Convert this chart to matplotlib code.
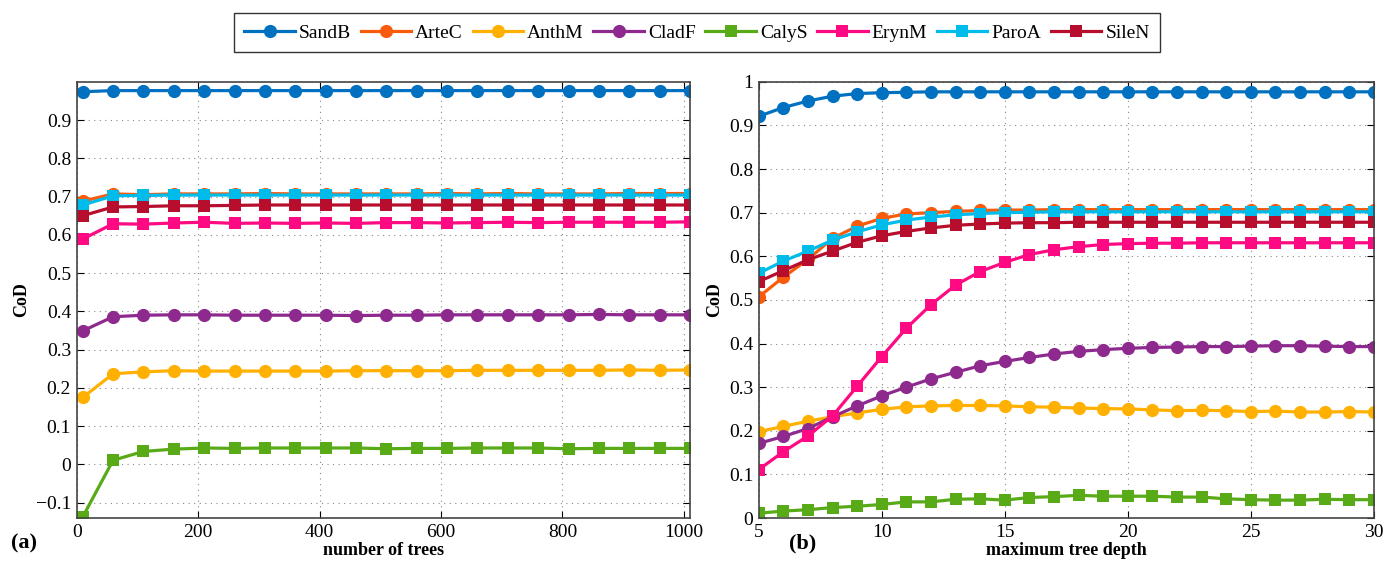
import numpy as np
import matplotlib.pyplot as plt
from matplotlib.lines import Line2D

plt.rcParams["font.family"] = ["Liberation Serif", "DejaVu Serif"]
plt.rcParams["font.size"] = 12

species = ["SandB", "ArteC", "AnthM", "CladF", "CalyS", "ErynM", "ParoA", "SileN"]
colors = ["#0070C0", "#F95B0C", "#FFB000", "#8E2A8E", "#58AA16", "#FF0A82", "#00BCEB", "#B80E2E"]
markers = ["o", "o", "o", "o", "s", "s", "s", "s"]

# (a) number of trees
n_trees = np.arange(10, 1011, 50)
trees_sandb = [0.974, 0.977, 0.977, 0.977, 0.977, 0.977, 0.977, 0.977, 0.977, 0.977, 0.977,
               0.977, 0.977, 0.977, 0.977, 0.977, 0.977, 0.977, 0.977, 0.977, 0.977]
trees_artec = [0.688, 0.707, 0.705, 0.707, 0.707, 0.707, 0.708, 0.707, 0.707, 0.707, 0.707,
               0.707, 0.708, 0.707, 0.708, 0.707, 0.707, 0.707, 0.708, 0.708, 0.708]
trees_anthm = [0.175, 0.237, 0.242, 0.245, 0.244, 0.244, 0.244, 0.244, 0.244, 0.245, 0.245,
               0.245, 0.245, 0.246, 0.246, 0.246, 0.246, 0.246, 0.247, 0.246, 0.247]
trees_cladf = [0.349, 0.386, 0.390, 0.391, 0.391, 0.390, 0.390, 0.390, 0.390, 0.389, 0.390,
               0.390, 0.391, 0.391, 0.391, 0.391, 0.391, 0.392, 0.391, 0.391, 0.391]
trees_calys = [-0.137, 0.011, 0.034, 0.040, 0.043, 0.042, 0.043, 0.043, 0.043, 0.043, 0.041,
               0.042, 0.042, 0.043, 0.043, 0.043, 0.041, 0.042, 0.042, 0.042, 0.042]
trees_erynm = [0.589, 0.629, 0.628, 0.631, 0.633, 0.630, 0.631, 0.630, 0.631, 0.630, 0.632,
               0.632, 0.631, 0.632, 0.633, 0.632, 0.633, 0.633, 0.633, 0.633, 0.634]
trees_paroa = [0.678, 0.702, 0.703, 0.704, 0.704, 0.704, 0.704, 0.704, 0.704, 0.704, 0.704,
               0.704, 0.704, 0.704, 0.704, 0.704, 0.704, 0.704, 0.704, 0.704, 0.704]
trees_silen = [0.650, 0.673, 0.674, 0.676, 0.676, 0.677, 0.678, 0.678, 0.678, 0.678, 0.678,
               0.678, 0.678, 0.678, 0.678, 0.678, 0.678, 0.678, 0.678, 0.678, 0.678]

# (b) maximum tree depth
depth = np.arange(5, 31)
depth_sandb = [0.921, 0.941, 0.956, 0.967, 0.973, 0.975, 0.976, 0.977, 0.977, 0.977, 0.977, 0.977, 0.977,
               0.977, 0.977, 0.977, 0.977, 0.977, 0.977, 0.977, 0.977, 0.977, 0.977, 0.977, 0.977, 0.977]
depth_artec = [0.507, 0.552, 0.593, 0.641, 0.669, 0.687, 0.697, 0.700, 0.703, 0.705, 0.706, 0.706, 0.707,
               0.707, 0.707, 0.707, 0.707, 0.707, 0.707, 0.707, 0.707, 0.707, 0.707, 0.707, 0.707, 0.707]
depth_anthm = [0.198, 0.210, 0.222, 0.232, 0.241, 0.249, 0.255, 0.257, 0.258, 0.258, 0.257, 0.255, 0.254,
               0.252, 0.251, 0.250, 0.248, 0.246, 0.247, 0.246, 0.244, 0.245, 0.243, 0.243, 0.244, 0.243]
depth_cladf = [0.171, 0.187, 0.205, 0.232, 0.257, 0.280, 0.300, 0.319, 0.334, 0.349, 0.359, 0.368, 0.376,
               0.382, 0.386, 0.389, 0.391, 0.392, 0.393, 0.393, 0.394, 0.395, 0.395, 0.394, 0.393, 0.393]
depth_calys = [0.011, 0.016, 0.019, 0.024, 0.027, 0.031, 0.037, 0.037, 0.043, 0.044, 0.041, 0.047, 0.049,
               0.052, 0.050, 0.050, 0.050, 0.048, 0.048, 0.044, 0.042, 0.041, 0.041, 0.043, 0.042, 0.042]
depth_erynm = [0.111, 0.152, 0.188, 0.234, 0.302, 0.370, 0.435, 0.489, 0.534, 0.565, 0.586, 0.604, 0.615,
               0.622, 0.627, 0.629, 0.630, 0.630, 0.631, 0.631, 0.631, 0.631, 0.631, 0.631, 0.631, 0.631]
depth_paroa = [0.561, 0.589, 0.612, 0.637, 0.656, 0.672, 0.683, 0.690, 0.695, 0.698, 0.700, 0.701, 0.702,
               0.702, 0.702, 0.702, 0.702, 0.702, 0.702, 0.702, 0.702, 0.702, 0.702, 0.702, 0.702, 0.702]
depth_silen = [0.542, 0.567, 0.592, 0.612, 0.632, 0.647, 0.657, 0.665, 0.671, 0.674, 0.676, 0.677, 0.677,
               0.678, 0.678, 0.678, 0.678, 0.678, 0.678, 0.678, 0.678, 0.678, 0.678, 0.678, 0.678, 0.678]

trees_series = [trees_sandb, trees_artec, trees_anthm, trees_cladf,
                trees_calys, trees_erynm, trees_paroa, trees_silen]
depth_series = [depth_sandb, depth_artec, depth_anthm, depth_cladf,
                depth_calys, depth_erynm, depth_paroa, depth_silen]

fig = plt.figure(figsize=(13.94, 5.68), dpi=100)
ax_a = fig.add_axes([0.055, 0.088, 0.440, 0.768])
ax_b = fig.add_axes([0.5443, 0.088, 0.4412, 0.768])


def draw_panel(ax, x, series):
    for name, ys, c, m in zip(species, series, colors, markers):
        ms = 9.5 if m == "o" else 9
        ax.plot(x, ys, color=c, marker=m, markersize=ms, linewidth=2.3,
                markeredgewidth=0, label=name)
    ax.grid(True, linestyle=(0, (1, 4)), color="#888888", linewidth=0.8)
    ax.tick_params(direction="in", top=True, right=True, length=5, labelsize=14, pad=4)
    for s in ax.spines.values():
        s.set_color("#444444")
        s.set_linewidth(1.2)
    ax.set_ylabel("CoD", fontweight="bold", fontsize=13, labelpad=4)


draw_panel(ax_a, n_trees, trees_series)
ax_a.set_xlim(0, 1010)
ax_a.set_ylim(-0.14, 1.0)
ax_a.set_xticks([0, 200, 400, 600, 800, 1000])
ax_a.set_yticks(np.round(np.arange(-0.1, 0.95, 0.1), 1))
ax_a.set_yticklabels(["\u22120.1", "0", "0.1", "0.2", "0.3", "0.4", "0.5", "0.6", "0.7", "0.8", "0.9"])
ax_a.set_xlabel("number of trees", fontweight="bold", fontsize=13, labelpad=1)

draw_panel(ax_b, depth, depth_series)
ax_b.set_xlim(5, 30)
ax_b.set_ylim(0, 1.0)
ax_b.set_xticks([5, 10, 15, 20, 25, 30])
ax_b.set_yticks(np.round(np.arange(0, 1.01, 0.1), 1))
ax_b.set_yticklabels(["0", "0.1", "0.2", "0.3", "0.4", "0.5", "0.6", "0.7", "0.8", "0.9", "1"])
ax_b.set_xlabel("maximum tree depth", fontweight="bold", fontsize=13, labelpad=1)

fig.text(0.008, 0.035, "(a)", fontweight="bold", fontsize=16)
fig.text(0.566, 0.035, "(b)", fontweight="bold", fontsize=16)

handles = [Line2D([], [], color=c, marker=m, markersize=9.5 if m == "o" else 9,
                  linewidth=2.3, markeredgewidth=0)
           for c, m in zip(colors, markers)]
leg = fig.legend(handles, species, loc="center", bbox_to_anchor=(0.5, 0.942), ncol=8,
                 frameon=True, fancybox=False, edgecolor="black", fontsize=14,
                 handlelength=2.6, handletextpad=0.2, columnspacing=0.5,
                 borderpad=0.55, markerscale=1.0)
leg.get_frame().set_linewidth(1.0)

fig.savefig("out.png", dpi=100)
